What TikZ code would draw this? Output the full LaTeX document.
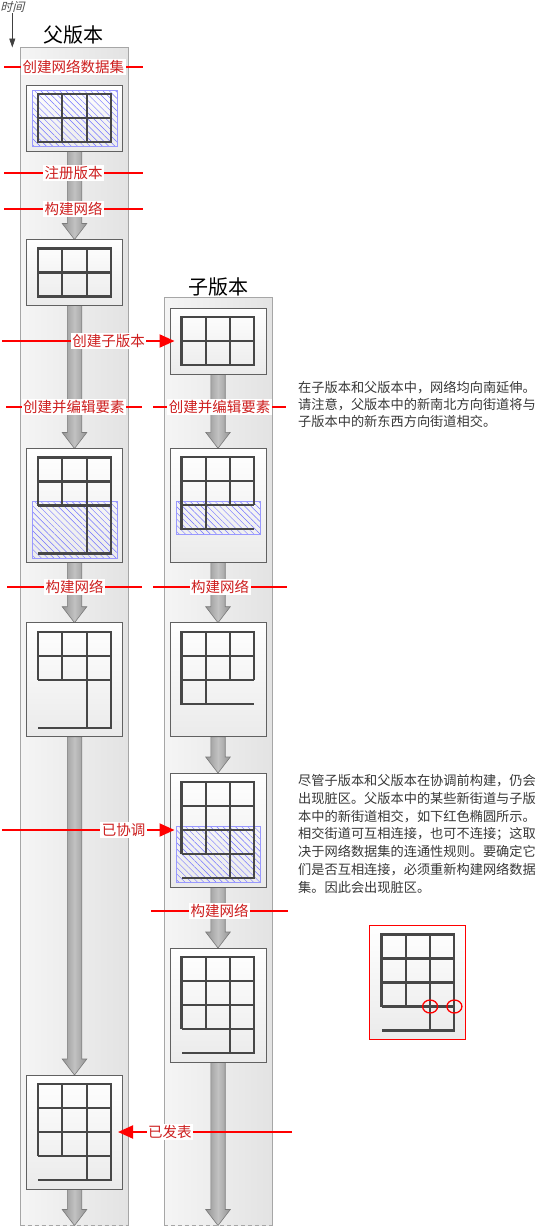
\documentclass[tikz,border=0pt]{standalone}
\usepackage{fontspec}
\setmainfont{Noto Sans CJK SC}
\newfontfamily\cjkslant[FakeSlant=0.25]{Noto Sans CJK SC}
\usetikzlibrary{arrows.meta,patterns.meta,calc}
\definecolor{lblred}{RGB}{205,30,30}
\definecolor{linered}{RGB}{255,0,0}
\definecolor{notegray}{RGB}{55,55,55}
\newcommand\flowarr[2]{%
  \path[flow] let \p1=#1, \p2=#2 in
   (\x1-7.2pt,\y1) -- (\x1-7.2pt,\y2+16pt) -- (\x1-12.3pt,\y2+16pt) -- (\x1,\y2)
   -- (\x1+12.3pt,\y2+16pt) -- (\x1+7.2pt,\y2+16pt) -- (\x1+7.2pt,\y1) -- cycle;}
\begin{document}
\begin{tikzpicture}[x=1pt,y=-1pt,
 col/.style={left color=black!4, right color=black!11},
 colside/.style={draw=black!35, line width=0.8pt},
 sbox/.style={draw=black!62, line width=0.8pt, top color=white, bottom color=black!8, minimum width=96pt, minimum height=66pt, inner sep=0pt, outer sep=0pt},
 tbox/.style={sbox, minimum height=114pt},
 flow/.style={draw=black!52, line width=0.6pt, left color=black!42, right color=black!42, middle color=black!24},
 gridline/.style={draw=black!72, line width=2.1pt, line join=miter},
 hatch/.style={draw=blue!40, line width=0.6pt, pattern={Lines[angle=-45,distance=4.4pt,line width=0.45pt]}, pattern color=blue!55},
 redline/.style={color=linered, line width=2pt},
 redarrow/.style={redline, -{Triangle[length=15pt,width=13pt]}, shorten >=-4.5pt},
 lbl/.style={fill=white, text=lblred, font=\fontsize{14.5}{16}\selectfont, inner sep=1.5pt},
 title/.style={font=\fontsize{20}{22}\selectfont, text=black},
 note/.style={text=notegray, align=left, inner sep=0pt, anchor=north west},
 gA/.pic={\draw[gridline] (11.5,9) rectangle (84.4,57);
   \draw[gridline] (11.5,33) -- (84.4,33) (35.8,9) -- (35.8,57) (60.1,9) -- (60.1,57);},
 gB/.pic={\draw[gridline] (11.5,57) -- (11.5,9) -- (84.4,9) -- (84.4,105) -- (11.5,105);
   \draw[gridline] (11.5,33) -- (84.4,33) (11.5,57) -- (84.4,57) (35.8,9) -- (35.8,57) (60.1,9) -- (60.1,105);},
 gC/.pic={\draw[gridline] (84.4,57) -- (84.4,9) -- (11.5,9) -- (11.5,81) -- (84.4,81);
   \draw[gridline] (11.5,33) -- (84.4,33) (11.5,57) -- (84.4,57) (35.8,9) -- (35.8,81) (60.1,9) -- (60.1,57);},
 gD/.pic={\draw[gridline] (11.5,81) -- (11.5,9) -- (84.4,9) -- (84.4,105) -- (11.5,105);
   \draw[gridline] (11.5,33) -- (84.4,33) (11.5,57) -- (84.4,57) (11.5,81) -- (84.4,81) (35.8,9) -- (35.8,81) (60.1,9) -- (60.1,105);},
]
\useasboundingbox (0,0) rectangle (538,1226);

% columns
\fill[col] (20.5,47.7) rectangle (128,1225.5);
\draw[colside] (20.5,1225.5) -- (20.5,47.7) -- (128,47.7) -- (128,1225.5);
\draw[colside, dash pattern=on 4pt off 3pt] (20.5,1225.5) -- (128,1225.5);
\fill[col] (164,297.3) rectangle (272,1225.5);
\draw[colside] (164,1225.5) -- (164,297.3) -- (272,297.3) -- (272,1225.5);
\draw[colside, dash pattern=on 4pt off 3pt] (164,1225.5) -- (272,1225.5);

% titles
\node[title] (tp) at (73.5,35) {父版本};
\node[title] (tc) at (218.5,286.5) {子版本};
\node[font=\cjkslant\fontsize{12}{12}\selectfont, text=black!70, inner sep=0.5pt] (time) at (12.5,7) {时间};
\coordinate (timeend) at (12.3,47.5);
\draw[black!75, line width=0.8pt, -{Triangle[length=9pt,width=6pt]}] (time.south -| timeend) -- (timeend);

% box positions
\coordinate (pend) at (74.5,1225.5);
\coordinate (cend) at (218,1225.5);
\path (74.5,118.3) node[sbox] (p1) {}
      (74.5,272.5) node[sbox] (p2) {}
      (74.5,505.5) node[tbox] (p3) {}
      (74.5,679.7) node[tbox] (p4) {}
      (74.5,1132) node[tbox] (p5) {}
      (218,341) node[sbox] (c1) {}
      (218,505.3) node[tbox] (c2) {}
      (218,679.7) node[tbox] (c3) {}
      (218,830) node[tbox] (c4) {}
      (218,1005) node[tbox] (c5) {};

% flow arrows
\flowarr{(p1.south)}{(p2.north)}
\flowarr{(p2.south)}{(p3.north)}
\flowarr{(p3.south)}{(p4.north)}
\flowarr{(p4.south)}{(p5.north)}
\flowarr{(p5.south)}{(pend)}
\flowarr{(c1.south)}{(c2.north)}
\flowarr{(c2.south)}{(c3.north)}
\flowarr{(c3.south)}{(c4.north)}
\flowarr{(c4.south)}{(c5.north)}
\flowarr{(c5.south)}{(cend)}

% boxes on top of arrows
\node[sbox] at (p1) {};
\node[sbox] at (p2) {};
\node[tbox] at (p3) {};
\node[tbox] at (p4) {};
\node[tbox] at (p5) {};
\node[sbox] at (c1) {};
\node[tbox] at (c2) {};
\node[tbox] at (c3) {};
\node[tbox] at (c4) {};
\node[tbox] at (c5) {};
\node[tbox, draw=linered, line width=1pt] (ex) at (417.5,982.5) {};

% hatched areas
\path[hatch] ([shift={(5.5,4.7)}]p1.north west) rectangle ([shift={(90.5,61.3)}]p1.north west);
\path[hatch] ([shift={(5.5,53)}]p3.north west) rectangle ([shift={(90.5,110)}]p3.north west);
\path[hatch] ([shift={(6,53)}]c2.north west) rectangle ([shift={(90,86)}]c2.north west);
\path[hatch] ([shift={(6,53.5)}]c4.north west) rectangle ([shift={(90,109.5)}]c4.north west);

% grids
\pic at (p1.north west) {gA};
\pic at (p2.north west) {gA};
\pic at (p3.north west) {gB};
\pic at (p4.north west) {gB};
\pic at (p5.north west) {gD};
\pic at (c1.north west) {gA};
\pic at (c2.north west) {gC};
\pic at (c3.north west) {gC};
\pic at (c4.north west) {gD};
\pic at (c5.north west) {gD};
\pic at ([xshift=0.5pt]ex.north west) {gD};
\draw[color=linered, line width=1.3pt] ([shift={(60.6,81)}]ex.north west) ellipse [x radius=7.5pt, y radius=6.5pt];
\draw[color=linered, line width=1.3pt] ([shift={(84.9,81)}]ex.north west) ellipse [x radius=7.5pt, y radius=6.5pt];

% red label lines
\coordinate (a1) at (4,67);   \coordinate (b1) at (143,67);
\coordinate (a2) at (4,173);  \coordinate (b2) at (143,173);
\coordinate (a3) at (4,209);  \coordinate (b3) at (143,209);
\coordinate (a5) at (6,407);  \coordinate (b5) at (142,407);
\coordinate (a6) at (153,407);\coordinate (b6) at (286,407);
\coordinate (a7) at (7,587);  \coordinate (b7) at (142,587);
\coordinate (a8) at (153,587);\coordinate (b8) at (287,587);
\coordinate (a9) at (151,911);\coordinate (b9) at (288,911);
\coordinate (s1) at (2,341);
\coordinate (s2) at (2,830);
\coordinate (s3) at (292,1132);

\draw[redline] (a1) -- (b1);
\draw[redline] (a2) -- (b2);
\draw[redline] (a3) -- (b3);
\draw[redline] (a5) -- (b5);
\draw[redline] (a6) -- (b6);
\draw[redline] (a7) -- (b7);
\draw[redline] (a8) -- (b8);
\draw[redline] (a9) -- (b9);
\draw[redarrow] (s1) -- (c1.west);
\draw[redarrow] (s2) -- (c4.west);
\draw[redarrow] (s3) -- (p5.east);

\path (a1) -- node[lbl] (t1) {创建网络数据集} (b1);
\path (a2) -- node[lbl] (t2) {注册版本} (b2);
\path (a3) -- node[lbl] (t3) {构建网络} (b3);
\path (a5) -- node[lbl] (t5) {创建并编辑要素} (b5);
\path (a6) -- node[lbl] (t6) {创建并编辑要素} (b6);
\path (a7) -- node[lbl] (t7) {构建网络} (b7);
\path (a8) -- node[lbl] (t8) {构建网络} (b8);
\path (a9) -- node[lbl] (t9) {构建网络} (b9);
\path (s1) -- node[lbl, pos=0.634] (u1) {创建子版本} (c1.west);
\path (s2) -- node[lbl, pos=0.724] (u2) {已协调} (c4.west);
\path (s3) -- node[lbl, pos=0.72] (u3) {已发表} (p5.east);

% notes
\node[note, font=\fontsize{13.2}{16.8}\selectfont] (n1) at (298,381.5) {在子版本和父版本中，网络均向南延伸。\\请注意，父版本中的新南北方向街道将与\\子版本中的新东西方向街道相交。};
\node[note, font=\fontsize{13.2}{17.7}\selectfont] (n2) at (298,774.5) {尽管子版本和父版本在协调前构建，仍会\\出现脏区。父版本中的某些新街道与子版\\本中的新街道相交，如下红色椭圆所示。\\相交街道可互相连接，也可不连接；这取\\决于网络数据集的连通性规则。要确定它\\们是否互相连接，必须重新构建网络数据\\集。因此会出现脏区。};
\end{tikzpicture}
\end{document}
